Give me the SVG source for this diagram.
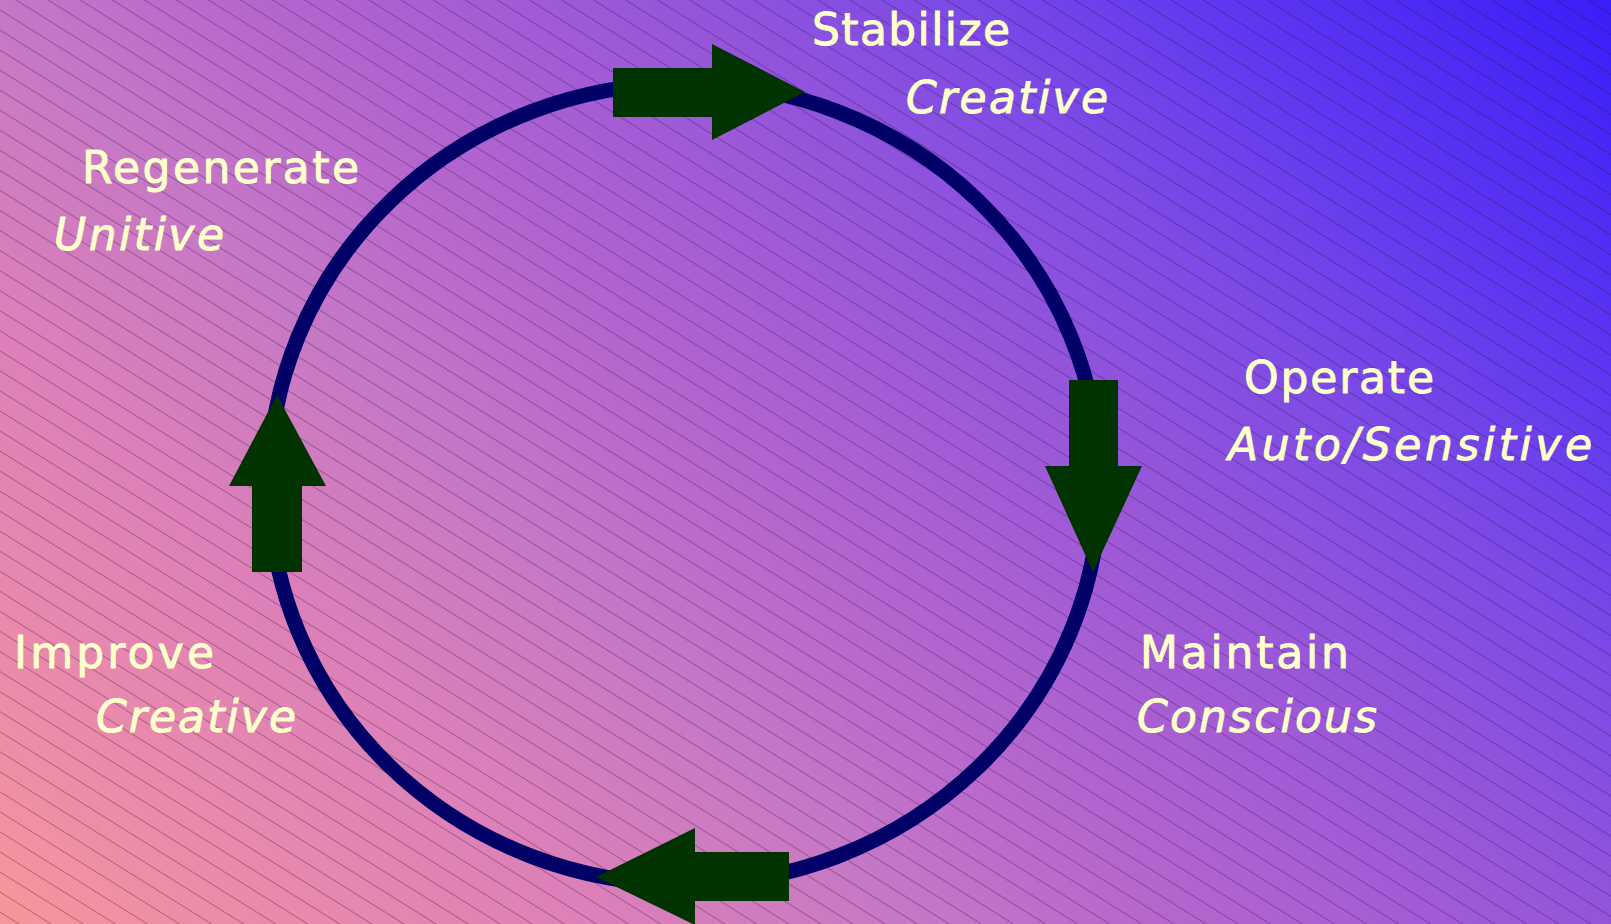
<svg xmlns="http://www.w3.org/2000/svg" width="1611" height="924" viewBox="0 0 1611 924">
  <defs>
    <linearGradient id="bg" gradientUnits="userSpaceOnUse" x1="0" y1="924" x2="1267.5" y2="-343.5">
      <stop offset="0" stop-color="#F7979A"/>
      <stop offset="0.09" stop-color="#EC8CA8"/>
      <stop offset="0.24" stop-color="#DC80B8"/>
      <stop offset="0.36" stop-color="#C678C6"/>
      <stop offset="0.45" stop-color="#B868CC"/>
      <stop offset="0.6" stop-color="#9C58D8"/>
      <stop offset="0.74" stop-color="#7B4AE6"/>
      <stop offset="0.84" stop-color="#6038F0"/>
      <stop offset="1" stop-color="#3A1EF8"/>
    </linearGradient>
    <pattern id="hatch" patternUnits="userSpaceOnUse" width="40" height="17" patternTransform="rotate(32)">
      <line x1="0" y1="8.5" x2="40" y2="8.5" stroke="#2A1040" stroke-opacity="0.33" stroke-width="1"/>
    </pattern>
  </defs>
  <style>
    .lbl { font-family: "DejaVu Sans", "Liberation Sans", sans-serif; font-size: 44px; fill: #FFFFCC; stroke: #FFFFCC; stroke-width: 0.9; }
    .it { font-style: italic; }
    .ring { fill: none; stroke: #000066; stroke-width: 15; }
    .arrow { fill: #003300; }
  </style>

  <!-- background -->
  <rect x="0" y="0" width="1611" height="924" fill="url(#bg)"/>
  <rect x="0" y="0" width="1611" height="924" fill="url(#hatch)"/>

  <!-- cycle ring with direction arrows -->
  <g id="connectors">
    <ellipse class="ring" cx="684.5" cy="484" rx="415.5" ry="400.5"/>
    <polygon class="arrow" points="613,68 712,68 712,44 805,92 712,140 712,117 613,117"/>
    <polygon class="arrow" points="1069,380 1118,380 1118,466 1142,466 1093,572 1045,466 1069,466"/>
    <polygon class="arrow" points="789,852 789,901 695,901 695,925 596,877 695,828 695,852"/>
    <polygon class="arrow" points="252,572 302,572 302,486 326,486 277,395 229,486 252,486"/>
  </g>

  <g id="stabilize">
    <text class="lbl" x="812" y="45" textLength="198" lengthAdjust="spacing">Stabilize</text>
    <text class="lbl it" x="906" y="113" textLength="202" lengthAdjust="spacing">Creative</text>
  </g>
  <g id="operate">
    <text class="lbl" x="1244" y="393" textLength="190" lengthAdjust="spacing">Operate</text>
    <text class="lbl it" x="1228" y="460" textLength="364" lengthAdjust="spacing">Auto/Sensitive</text>
  </g>
  <g id="maintain">
    <text class="lbl" x="1140" y="668" textLength="209" lengthAdjust="spacing">Maintain</text>
    <text class="lbl it" x="1137" y="732" textLength="240" lengthAdjust="spacing">Conscious</text>
  </g>
  <g id="improve">
    <text class="lbl" x="14" y="668" textLength="200" lengthAdjust="spacing">Improve</text>
    <text class="lbl it" x="96" y="732" textLength="200" lengthAdjust="spacing">Creative</text>
  </g>
  <g id="regenerate">
    <text class="lbl" x="82" y="183" textLength="277" lengthAdjust="spacing">Regenerate</text>
    <text class="lbl it" x="54" y="250" textLength="170" lengthAdjust="spacing">Unitive</text>
  </g>
</svg>
